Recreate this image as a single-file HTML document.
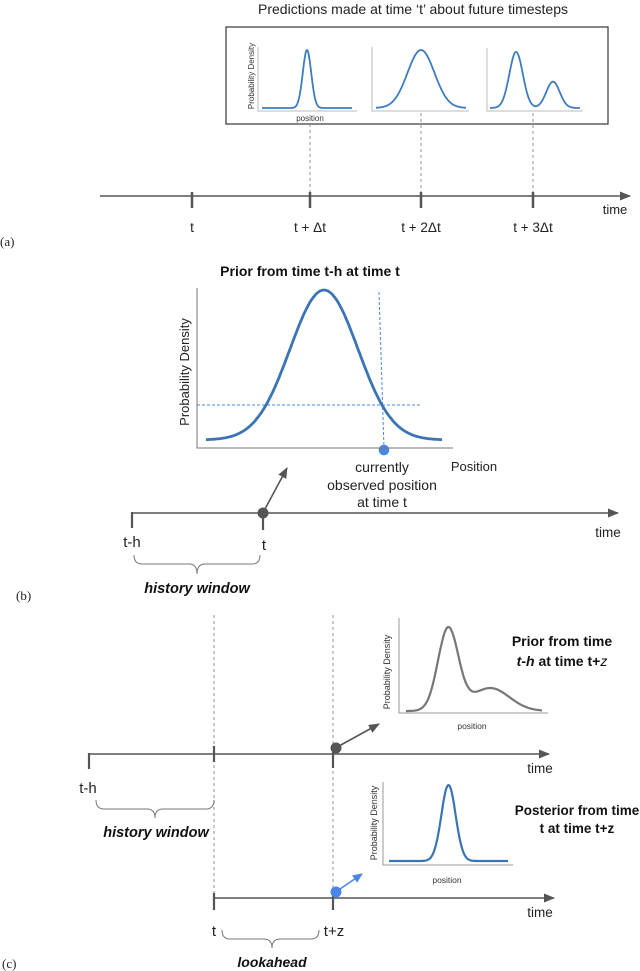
<!DOCTYPE html>
<html><head><meta charset="utf-8">
<style>
html,body{margin:0;padding:0;background:#fff;}
svg{display:block;font-family:"Liberation Sans",Arial,sans-serif;}
</style></head>
<body>
<svg id="fig" width="640" height="971" viewBox="0 0 640 971" xmlns="http://www.w3.org/2000/svg">
<defs>
<marker id="ah" markerWidth="11" markerHeight="9" refX="10" refY="4.5" orient="auto" markerUnits="userSpaceOnUse"><path d="M0,0 L11,4.5 L0,9 z" fill="#555"/></marker>
<marker id="ahb" markerWidth="10" markerHeight="9" refX="9" refY="4.5" orient="auto" markerUnits="userSpaceOnUse"><path d="M0,0 L10,4.5 L0,9 z" fill="#4a86e8"/></marker>
</defs>

<!-- Panel (a) -->
<g>
<text x="413" y="14" font-size="14" text-anchor="middle" fill="#222">Predictions made at time ‘t’ about future timesteps</text>
<rect x="226" y="27" width="382" height="97" fill="none" stroke="#444" stroke-width="1.3"/>
<g stroke="#888" stroke-dasharray="3,3" stroke-width="0.9">
<line x1="310" y1="124" x2="310" y2="195"/><line x1="421" y1="113" x2="421" y2="195"/><line x1="533" y1="113" x2="533" y2="195"/>
</g>
<line x1="100" y1="196" x2="630" y2="196" stroke="#555" stroke-width="1.5" marker-end="url(#ah)"/>
<g stroke="#555" stroke-width="2.5">
<line x1="192" y1="192" x2="192" y2="208"/><line x1="310" y1="192" x2="310" y2="208"/><line x1="421" y1="192" x2="421" y2="208"/><line x1="533" y1="192" x2="533" y2="208"/>
</g>
<g font-size="13.5" text-anchor="middle" fill="#222">
<text x="192" y="232">t</text>
<text x="310" y="232">t + Δt</text>
<text x="421" y="232">t + 2Δt</text>
<text x="533" y="232">t + 3Δt</text>
</g>
<text x="615" y="214" font-size="13" text-anchor="middle" fill="#222">time</text>
<text x="0" y="246" font-size="13" font-family="Liberation Serif,serif" fill="#222">(a)</text>
<text x="310" y="121" font-size="8" text-anchor="middle" fill="#333">position</text>
<text transform="translate(254,76) rotate(-90)" font-size="8" text-anchor="middle" fill="#333">Probability Density</text>
</g>

<!-- Panel (b) -->
<g>
<text x="310" y="276" font-size="14" font-weight="bold" text-anchor="middle" fill="#111">Prior from time t-h at time t</text>
<text transform="translate(189,372) rotate(-90)" font-size="13" text-anchor="middle" fill="#222">Probability Density</text>
<line x1="197" y1="405" x2="420" y2="405" stroke="#4a86e8" stroke-dasharray="3,2" stroke-width="1"/>
<line x1="379" y1="292" x2="384" y2="448" stroke="#4a86e8" stroke-dasharray="3,2" stroke-width="1"/>
<circle cx="384" cy="450" r="5.3" fill="#4a86e8"/>
<text x="474" y="471" font-size="13" text-anchor="middle" fill="#222">Position</text>
<g font-size="14" text-anchor="middle" fill="#222">
<text x="382" y="472">currently</text><text x="382" y="490">observed position</text><text x="382" y="507">at time t</text>
</g>
<line x1="265" y1="509" x2="287" y2="468" stroke="#555" stroke-width="1.6" marker-end="url(#ah)"/>
<line x1="132" y1="513" x2="618" y2="513" stroke="#555" stroke-width="1.6" marker-end="url(#ah)"/>
<line x1="132" y1="512" x2="132" y2="528" stroke="#555" stroke-width="2.2"/>
<line x1="263" y1="513" x2="263" y2="530" stroke="#555" stroke-width="2.2"/>
<circle cx="263" cy="513" r="5.5" fill="#555"/>
<text x="132" y="547" font-size="15" text-anchor="middle" fill="#222">t-h</text>
<text x="264" y="550" font-size="15" text-anchor="middle" fill="#222">t</text>
<text x="608" y="537" font-size="13.5" text-anchor="middle" fill="#222">time</text>
<path d="M134,555 q0,9 8,9 h47 q8,0 8,10 q0,-10 8,-10 h47 q8,0 8,-9" fill="none" stroke="#777" stroke-width="1"/>
<text x="197" y="593" font-size="14.5" font-weight="bold" font-style="italic" text-anchor="middle" fill="#111">history window</text>
<text x="16" y="600" font-size="13" font-family="Liberation Serif,serif" fill="#222">(b)</text>
</g>

<!-- Panel (c) -->
<g>
<g stroke="#888" stroke-dasharray="3,3" stroke-width="0.9">
<line x1="214" y1="615" x2="214" y2="895"/><line x1="333" y1="615" x2="333" y2="888"/>
</g>
<line x1="89" y1="754" x2="549" y2="754" stroke="#555" stroke-width="1.6" marker-end="url(#ah)"/>
<g stroke="#555" stroke-width="2.2"><line x1="89" y1="753" x2="89" y2="769"/><line x1="214" y1="746" x2="214" y2="762"/><line x1="333" y1="748" x2="333" y2="768"/></g>
<circle cx="336" cy="748" r="5.5" fill="#555"/>
<line x1="339" y1="746" x2="379" y2="724" stroke="#555" stroke-width="1.6" marker-end="url(#ah)"/>
<text x="540" y="773" font-size="13.5" text-anchor="middle" fill="#222">time</text>
<text x="88" y="793" font-size="15" text-anchor="middle" fill="#222">t-h</text>
<path d="M96,800 q0,9 8,9 h43 q8,0 8,9 q0,-9 8,-9 h43 q8,0 8,-9" fill="none" stroke="#777" stroke-width="1"/>
<text x="156" y="837" font-size="14.5" font-weight="bold" font-style="italic" text-anchor="middle" fill="#111">history window</text>
<text x="562" y="646" font-size="14" font-weight="bold" text-anchor="middle" fill="#111">Prior from time</text>
<text x="562" y="666" font-size="14" font-weight="bold" text-anchor="middle" fill="#111"><tspan font-style="italic">t-h</tspan> at time t+<tspan font-weight="normal" font-style="italic">z</tspan></text>
<text x="472" y="729" font-size="8.5" text-anchor="middle" fill="#333">position</text>
<text transform="translate(390,672) rotate(-90)" font-size="9" text-anchor="middle" fill="#333">Probability Density</text>
<text x="577" y="815" font-size="13.5" font-weight="bold" text-anchor="middle" fill="#111">Posterior from time</text>
<text x="577" y="833" font-size="13.5" font-weight="bold" text-anchor="middle" fill="#111">t at time t+z</text>
<text x="447" y="883" font-size="8.5" text-anchor="middle" fill="#333">position</text>
<text transform="translate(377,823) rotate(-90)" font-size="9" text-anchor="middle" fill="#333">Probability Density</text>
<line x1="214" y1="898" x2="554" y2="898" stroke="#555" stroke-width="1.6" marker-end="url(#ah)"/>
<g stroke="#555" stroke-width="2.2"><line x1="214" y1="893" x2="214" y2="910"/><line x1="333" y1="895" x2="333" y2="910"/></g>
<circle cx="336" cy="892" r="5.5" fill="#4a86e8"/>
<line x1="340" y1="889" x2="362" y2="874" stroke="#4a86e8" stroke-width="1.6" marker-end="url(#ahb)"/>
<text x="540" y="917" font-size="13.5" text-anchor="middle" fill="#222">time</text>
<text x="214" y="936" font-size="15" text-anchor="middle" fill="#222">t</text>
<text x="334" y="936" font-size="15" text-anchor="middle" fill="#222">t+z</text>
<path d="M222,930 q0,9 8,9 h34 q8,0 8,9 q0,-9 8,-9 h31 q8,0 8,-9" fill="none" stroke="#777" stroke-width="1"/>
<text x="272" y="967" font-size="14" font-weight="bold" font-style="italic" text-anchor="middle" fill="#111">lookahead</text>
<text x="2" y="968" font-size="13" font-family="Liberation Serif,serif" fill="#222">(c)</text>
</g>
<g id="plots"></g>
</svg>
<script>
// Density plots: Gaussian-mixture components (mean, sd, weight on 0..1 position scale)
var plotNames = ['a1', 'a2', 'a3', 'b', 'c1', 'c2'];
var compMeans = [[0.5], [0.5], [0.29, 0.70], [0.5], [0.31, 0.62], [0.5]];
var compSds = [[0.047], [0.15], [0.075, 0.075], [0.144], [0.075, 0.14], [0.06]];
var compWeights = [[1], [1], [1, 0.47], [1], [1, 0.28], [1]];

// layout (not data)
var frames = {
  a1: {ax: 258, x0: 262, x1: 352, axEnd: 357, top: 47, axBot: 111, base: 108, peak: 50, color: '#3d7cc0', sw: 1.8, axisColor: '#bbb'},
  a2: {ax: 372, x0: 376, x1: 466, axEnd: 469, top: 47, axBot: 111, base: 108, peak: 50, color: '#3d7cc0', sw: 1.8, axisColor: '#bbb'},
  a3: {ax: 487, x0: 490, x1: 580, axEnd: 583, top: 48, axBot: 111, base: 108, peak: 52, color: '#3d7cc0', sw: 1.8, axisColor: '#bbb'},
  b:  {ax: 197, x0: 206, x1: 442, axEnd: 453, top: 288, axBot: 448, base: 440, peak: 290, color: '#3a74b4', sw: 2.8, axisColor: '#777'},
  c1: {ax: 399, x0: 406, x1: 542, axEnd: 548, top: 618, axBot: 713, base: 711, peak: 627, color: '#777', sw: 2.2, axisColor: '#999'},
  c2: {ax: 383, x0: 389, x1: 508, axEnd: 513, top: 782, axBot: 865, base: 861, peak: 785, color: '#3a74b4', sw: 2.2, axisColor: '#999'}
};
var NS = 'http://www.w3.org/2000/svg';
var root = document.getElementById('plots');
function density(i, u) {
  var s = 0;
  for (var k = 0; k < compMeans[i].length; k++) {
    var d = (u - compMeans[i][k]) / compSds[i][k];
    s += compWeights[i][k] * Math.exp(-0.5 * d * d);
  }
  return s;
}
plotNames.forEach(function (name, i) {
  var f = frames[name];
  var g = document.createElementNS(NS, 'g');
  
  
  var ax = document.createElementNS(NS, 'path');
  ax.setAttribute('d', 'M' + f.ax + ',' + f.top + ' L' + f.ax + ',' + f.axBot + ' L' + f.axEnd + ',' + f.axBot);
  ax.setAttribute('fill', 'none');
  ax.setAttribute('stroke', f.axisColor);
  ax.setAttribute('stroke-width', '1');
  
  
  g.appendChild(ax);
  var N = 150, maxv = 0, vals = [];
  for (var j = 0; j <= N; j++) { var v = density(i, j / N); vals.push(v); if (v > maxv) maxv = v; }
  var xs = function (u) { return f.x0 + u * (f.x1 - f.x0); };
  var ys = function (v) { return f.base - (v / maxv) * (f.base - f.peak); };
  var d = '';
  for (var j = 0; j <= N; j++) d += (j ? 'L' : 'M') + xs(j / N).toFixed(1) + ',' + ys(vals[j]).toFixed(1);
  var p = document.createElementNS(NS, 'path');
  p.setAttribute('d', d);
  p.setAttribute('fill', 'none');
  p.setAttribute('stroke', f.color);
  p.setAttribute('stroke-width', f.sw);
  p.setAttribute('stroke-linejoin', 'round');
  
  
  g.appendChild(p);
  root.appendChild(g);
});
</script>
</body></html>
